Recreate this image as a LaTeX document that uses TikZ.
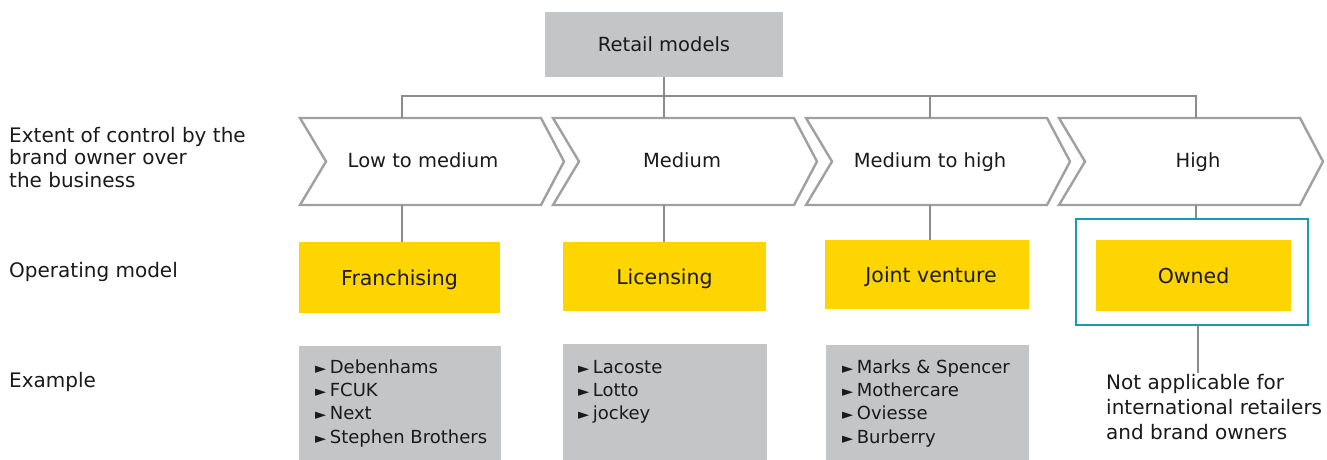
\documentclass[tikz,border=0pt]{standalone}
\usepackage{fontspec}
\setmainfont{DejaVu Sans}
\definecolor{boxgrey}{RGB}{196,197,199}
\definecolor{eyyellow}{RGB}{255,213,0}
\definecolor{chevgrey}{RGB}{160,160,160}
\definecolor{linegrey}{RGB}{140,140,140}
\definecolor{teal}{RGB}{26,152,180}
\definecolor{ink}{RGB}{26,26,26}
\newcommand{\bul}{{\fontsize{14.5}{14}\selectfont ►}\hspace{3.5pt}}
\tikzset{
  greybox/.style={fill=boxgrey, draw=none, inner sep=0pt},
  yellowbox/.style={fill=eyyellow, draw=none, inner sep=0pt, text=ink,
    font=\fontsize{20.5}{22}\selectfont, text height=15pt, text depth=0pt},
  chevron/.style={draw=chevgrey, line width=2.4pt, fill=white, line join=miter},
  conn/.style={draw=linegrey, line width=1.4pt},
  lbl/.style={anchor=base west, inner sep=0pt, text=ink,
    font=\fontsize{20}{22.5}\selectfont, align=left},
  chevtext/.style={anchor=base, inner sep=0pt, text=ink, font=\fontsize{19.5}{22}\selectfont},
  exline/.style={anchor=base west, inner sep=0pt, text=ink,
    font=\fontsize{18}{20}\selectfont},
}
\begin{document}
\begin{tikzpicture}[x=1pt, y=-1pt]
\useasboundingbox (0,0) rectangle (1327,459);

% top box
\node[greybox, minimum width=238pt, minimum height=65pt, text=ink,
  font=\fontsize{19.5}{22}\selectfont] (retail) at (664,44.5) {Retail models};

% chevrons for the extent of control
\foreach \L/\n in {300/1,553/2,806/3,1059/4}{
  \draw[chevron] (\L,118) -- (\L+241,118) -- (\L+264,161.5) -- (\L+241,205)
    -- (\L,205) -- (\L+26,161.5) -- cycle;
}
\node[chevtext] (c1) at (423,167) {Low to medium};
\node[chevtext] (c2) at (682,167) {Medium};
\node[chevtext] (c3) at (930,167) {Medium to high};
\node[chevtext] (c4) at (1198,167) {High};

% attachment points on the chevron edges
\coordinate (c1t) at (402,118); \coordinate (c1b) at (402,205);
\coordinate (c2t) at (664,118); \coordinate (c2b) at (664,205);
\coordinate (c3t) at (930,118); \coordinate (c3b) at (930,205);
\coordinate (c4t) at (1196,118); \coordinate (c4b) at (1196,205);
\coordinate (busL) at (402,96); \coordinate (busR) at (1196,96);
\coordinate (bus3) at (930,96);

% operating models
\node[yellowbox, minimum width=201pt, minimum height=71pt] (fr) at (399.5,277.5) {Franchising};
\node[yellowbox, minimum width=203pt, minimum height=69pt] (li) at (664.5,276.5) {Licensing};
\node[yellowbox, minimum width=204pt, minimum height=69pt] (jv) at (927,274.5) {\hspace{8pt}Joint venture};
\node[yellowbox, minimum width=195pt, minimum height=71pt] (ow) at (1193.5,275.5) {Owned};
\node[draw=teal, line width=2pt, minimum width=232pt, minimum height=106pt,
  inner sep=0pt] (owf) at (1192,272) {};

% example boxes
\node[greybox, minimum width=202pt, minimum height=114pt] (ex1) at (400,403) {};
\node[greybox, minimum width=204pt, minimum height=116pt] (ex2) at (665,402) {};
\node[greybox, minimum width=203pt, minimum height=115pt] (ex3) at (927.5,402.5) {};

% connectors
\draw[conn] (retail.south) -- (c2t);
\draw[conn] (c1t) -- (busL) -- (busR) -- (c4t);
\draw[conn] (bus3) -- (c3t);
\draw[conn] (c1b) -- (fr.north -| c1b);
\draw[conn] (c2b) -- (li.north -| c2b);
\draw[conn] (c3b) -- (jv.north -| c3b);
\draw[conn] (c4b) -- (owf.north -| c4b);

% row labels
\node[lbl] (lab1) at (9,142) {Extent of control by the};
\node[lbl] (lab2) at (9,164.5) {brand owner over};
\node[lbl] (lab3) at (9,187) {the business};
\node[lbl] (lab4) at (9,277) {Operating model};
\node[lbl] (lab5) at (9,387) {Example};

% example lists
\node[exline] (d1) at (315,373) {\bul Debenhams};
\node[exline] (d2) at (315,396) {\bul FCUK};
\node[exline] (d3) at (315,419) {\bul Next};
\node[exline] (d4) at (315,443) {\bul Stephen Brothers};

\node[exline] (e1) at (578,373) {\bul Lacoste};
\node[exline] (e2) at (578,396) {\bul Lotto};
\node[exline] (e3) at (578,419) {\bul jockey};

\node[exline] (f1) at (842,373) {\bul Marks \& Spencer};
\node[exline] (f2) at (842,396) {\bul Mothercare};
\node[exline] (f3) at (842,419) {\bul Oviesse};
\node[exline] (f4) at (842,443) {\bul Burberry};

% owned note
\node[lbl] (n1) at (1106,389) {Not applicable for};
\node[lbl] (n2) at (1106,414) {international retailers};
\node[lbl] (n3) at (1106,439) {and brand owners};
\coordinate (nt) at (1198,373);
\draw[conn] (owf.south -| nt) -- (nt);
\end{tikzpicture}
\end{document}
